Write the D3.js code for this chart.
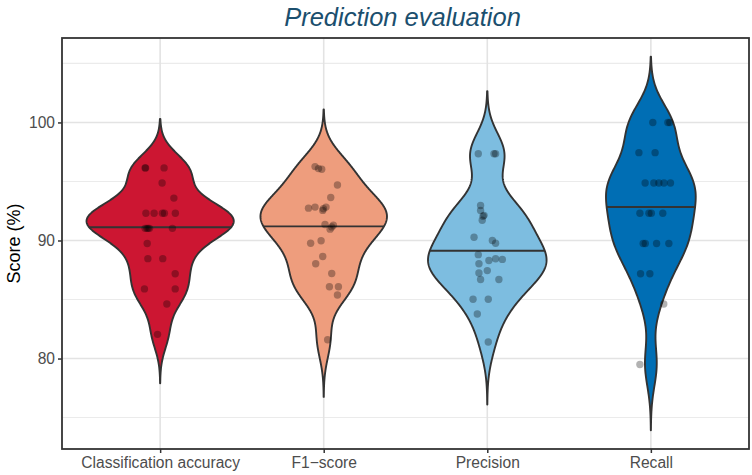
<!DOCTYPE html>
<html>
<head>
<meta charset="utf-8">
<script src="https://cdn.jsdelivr.net/npm/d3@7"></script>
<style>
  html, body { margin: 0; padding: 0; background: #ffffff; }
  svg { display: block; font-family: "Liberation Sans", Arial, Helvetica, sans-serif; }
</style>
</head>
<body>
<svg id="chart" width="752" height="475"></svg>
<script>
// ---------------- data ----------------
const categories = ["Classification accuracy", "F1\u2212score", "Precision", "Recall"];
const fillColors = ["#CC1632", "#EE9D7D", "#7DBDE0", "#006EB4"];

// scores (%) per metric
const accuracyScores = [96.15, 96.15, 96.15, 94.87, 93.59, 92.31, 92.31, 92.31, 92.31, 92.31,
  91.03, 91.03, 91.03, 91.03, 91.03, 89.74, 88.46, 88.46, 87.18, 85.90, 85.90, 84.62, 82.05];
const accuracyJitter = [-0.092, -0.089, 0.024, 0.012, 0.084, -0.087, -0.037, 0.014, 0.026, 0.093,
  -0.092, -0.073, -0.081, -0.065, 0.075, -0.079, -0.075, 0.016, 0.092, -0.096, 0.092, 0.041, -0.016];

const f1Scores = [96.26, 96.09, 96.04, 94.70, 93.64, 92.74, 92.83, 92.69, 92.83, 92.55,
  91.35, 91.30, 90.96, 91.15, 89.77, 89.98, 88.64, 88.03, 87.20, 86.08, 86.08, 85.38, 81.59];
const f1Jitter = [-0.053, -0.032, -0.012, 0.084, 0.043, -0.093, -0.053, -0.002, 0.014, -0.006,
  0.008, 0.059, 0.039, 0.049, -0.08, -0.016, -0.006, -0.049, 0.049, 0.035, 0.09, 0.084, 0.024];

const precisionScores = [97.35, 97.35, 97.35, 92.97, 92.55, 92.13, 92.05, 91.71, 90.27, 90.00,
  89.77, 88.80, 88.45, 88.40, 88.30, 88.03, 87.45, 87.25, 86.69, 86.69, 85.02, 85.02, 83.77, 81.40];
const precisionJitter = [-0.055, 0.041, 0.051, -0.041, -0.041, -0.02, -0.026, -0.031, -0.081, 0.031,
  0.051, -0.055, 0.051, 0.092, 0.01, -0.051, 0.0, -0.051, -0.041, 0.071, -0.087, 0.006, -0.061, 0.006];

const recallScores = [100, 100, 100, 97.44, 97.44, 94.87, 94.87, 94.87, 94.87, 94.87,
  92.31, 92.31, 92.31, 92.31, 89.74, 89.74, 89.74, 89.74, 87.18, 87.18, 84.62, 79.49];
const recallJitter = [0.012, 0.104, 0.116, -0.073, 0.026, -0.035, 0.018, 0.049, 0.080, 0.120,
  -0.067, -0.012, 0.003, 0.073, -0.047, -0.034, 0.035, 0.110, -0.063, -0.006, 0.079, -0.067];

const yMajorTicks = [80, 90, 100];
const yMinorTicks = [75, 85, 95, 105];

const chartTitle = "Prediction evaluation";
const yTitle = "Score (%)";

// ---------------- layout ----------------
const panel = { left: 62, right: 749, top: 38, bottom: 449 };

const groups = [accuracyScores, f1Scores, precisionScores, recallScores].map((vals, i) => ({
  cat: categories[i],
  fill: fillColors[i],
  values: vals,
  jitter: [accuracyJitter, f1Jitter, precisionJitter, recallJitter][i]
}));

// ---------------- kernel density (R-style) ----------------
function bwNrd0(x) {
  const s = d3.sort(x);
  const hi = d3.deviation(s);
  const iqr = d3.quantileSorted(s, 0.75) - d3.quantileSorted(s, 0.25);
  let lo = Math.min(hi, iqr / 1.34);
  if (!(lo > 0)) lo = hi || Math.abs(s[0]) || 1;
  return 0.9 * lo * Math.pow(s.length, -0.2);
}
function kde(x, bw, n = 512) {
  const lo = d3.min(x) - 3 * bw, hi = d3.max(x) + 3 * bw;
  const out = [];
  for (let i = 0; i < n; i++) {
    const y = lo + (hi - lo) * i / (n - 1);
    let s = 0;
    for (const v of x) { const z = (y - v) / bw; s += Math.exp(-0.5 * z * z); }
    out.push({ y, d: s / (x.length * bw * Math.sqrt(2 * Math.PI)) });
  }
  return out;
}
groups.forEach(g => {
  g.bw = bwNrd0(g.values);
  g.dens = kde(g.values, g.bw);
});
const maxDens = d3.max(groups, g => d3.max(g.dens, p => p.d));
groups.forEach(g => {
  g.dens.forEach(p => p.w = p.d / maxDens);
  // median from density cdf (as ggplot draw_quantiles)
  const total = d3.sum(g.dens, p => p.d);
  let cum = 0; const cdf = g.dens.map(p => (cum += p.d) / total);
  let k = cdf.findIndex(c => c >= 0.5);
  const c0 = cdf[k - 1], c1 = cdf[k];
  const t = (0.5 - c0) / (c1 - c0);
  g.medY = g.dens[k - 1].y + t * (g.dens[k].y - g.dens[k - 1].y);
  g.medW = g.dens[k - 1].w + t * (g.dens[k].w - g.dens[k - 1].w);
});

// ---------------- scales ----------------
const yLo = d3.min(groups, g => g.dens[0].y);
const yHi = d3.max(groups, g => g.dens[g.dens.length - 1].y);
const pad = (yHi - yLo) * 0.05;
const y = d3.scaleLinear().domain([yLo - pad, yHi + pad]).range([panel.bottom, panel.top]);
const x = d3.scalePoint().domain(categories).range([panel.left, panel.right]).padding(0.6);
const step = x.step();
const halfMax = 0.45 * step;

const svg = d3.select("#chart");

// grid
const grid = svg.append("g");
grid.selectAll("line.minor").data(yMinorTicks).join("line")
  .attr("x1", panel.left).attr("x2", panel.right)
  .attr("y1", d => y(d)).attr("y2", d => y(d))
  .attr("stroke", "#EBEBEB").attr("stroke-width", 1.1);
grid.selectAll("line.major").data(yMajorTicks).join("line")
  .attr("x1", panel.left).attr("x2", panel.right)
  .attr("y1", d => y(d)).attr("y2", d => y(d))
  .attr("stroke", "#E3E3E3").attr("stroke-width", 1.6);
grid.selectAll("line.vx").data(categories).join("line")
  .attr("x1", d => x(d)).attr("x2", d => x(d))
  .attr("y1", panel.top).attr("y2", panel.bottom)
  .attr("stroke", "#E3E3E3").attr("stroke-width", 1.6);

// violins
const area = d3.area().y(p => y(p.y));
groups.forEach(g => {
  const cx = x(g.cat);
  svg.append("path")
    .datum(g.dens)
    .attr("d", area.x0(p => cx - p.w * halfMax).x1(p => cx + p.w * halfMax)(g.dens))
    .attr("fill", g.fill)
    .attr("stroke", "#333333")
    .attr("stroke-width", 1.9)
    .attr("stroke-linejoin", "round");
  svg.append("line")
    .attr("x1", cx - g.medW * halfMax).attr("x2", cx + g.medW * halfMax)
    .attr("y1", y(g.medY)).attr("y2", y(g.medY))
    .attr("stroke", "#333333").attr("stroke-width", 1.9);
});

// jittered points
groups.forEach(g => {
  const cx = x(g.cat);
  svg.append("g").selectAll("circle").data(g.values).join("circle")
    .attr("cx", (v, i) => cx + g.jitter[i] * step)
    .attr("cy", v => y(v))
    .attr("r", 3.7)
    .attr("fill", "#000000")
    .attr("fill-opacity", 0.3);
});

// panel border
svg.append("rect")
  .attr("x", panel.left).attr("y", panel.top)
  .attr("width", panel.right - panel.left).attr("height", panel.bottom - panel.top)
  .attr("fill", "none").attr("stroke", "#333333").attr("stroke-width", 1.8);

// axes
const yAxis = d3.axisLeft(y).tickValues(yMajorTicks).tickSize(4).tickPadding(3);
const gy = svg.append("g").attr("transform", `translate(${panel.left},0)`).call(yAxis);
gy.select(".domain").remove();
gy.selectAll(".tick line").attr("stroke", "#333333").attr("stroke-width", 1.5);
gy.selectAll(".tick text").attr("fill", "#4D4D4D").style("font-size", "15.6px")
  .style("font-family", "'Liberation Sans', Arial, sans-serif");

const xAxis = d3.axisBottom(x).tickSize(4).tickPadding(4);
const gx = svg.append("g").attr("transform", `translate(0,${panel.bottom})`).call(xAxis);
gx.select(".domain").remove();
gx.selectAll(".tick line").attr("stroke", "#333333").attr("stroke-width", 1.5);
gx.selectAll(".tick text").attr("fill", "#4D4D4D").style("font-size", "15.6px")
  .style("font-family", "'Liberation Sans', Arial, sans-serif");

// titles
svg.append("text")
  .attr("x", (panel.left + panel.right) / 2 - 3).attr("y", 26)
  .attr("text-anchor", "middle")
  .attr("fill", "#1B4F6E")
  .style("font-size", "25.5px").style("font-style", "italic")
  .text(chartTitle);

svg.append("text")
  .attr("transform", `translate(20,${(panel.top + panel.bottom) / 2}) rotate(-90)`)
  .attr("text-anchor", "middle")
  .attr("fill", "#000000")
  .style("font-size", "18px")
  .text(yTitle);
</script>
</body>
</html>
